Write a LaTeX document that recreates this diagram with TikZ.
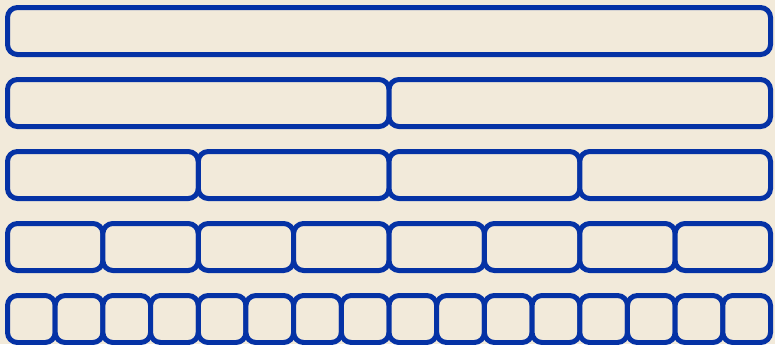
\documentclass[tikz,border=0pt]{standalone}
\usepackage{tikz}
\usepackage{xcolor}
\definecolor{barBlue}{RGB}{5,50,165}
\definecolor{barPaper}{RGB}{242,234,218}
\tikzset{barcell/.style={draw=barBlue,fill=barPaper,line width=2.5pt,rounded corners=5pt}}

\begin{document}
\begin{tikzpicture}[x=0.5pt,y=-0.5pt]
  \fill[barPaper] (0,0) rectangle (775,344);
  \useasboundingbox (0,0) rectangle (775,344);
  \clip (0,0) rectangle (775,344);
  % rows of halving bars
  \foreach \r in {0,...,4}{
    \pgfmathtruncatemacro{\n}{2^\r}
    \pgfmathsetmacro{\w}{763/\n}
    \foreach \i in {1,...,\n}{
      \draw[barcell] ({7.5+(\i-1)*\w},{7.5+72*\r}) rectangle ({7.5+\i*\w},{54.5+72*\r});
    }
  }
\end{tikzpicture}
\end{document}
